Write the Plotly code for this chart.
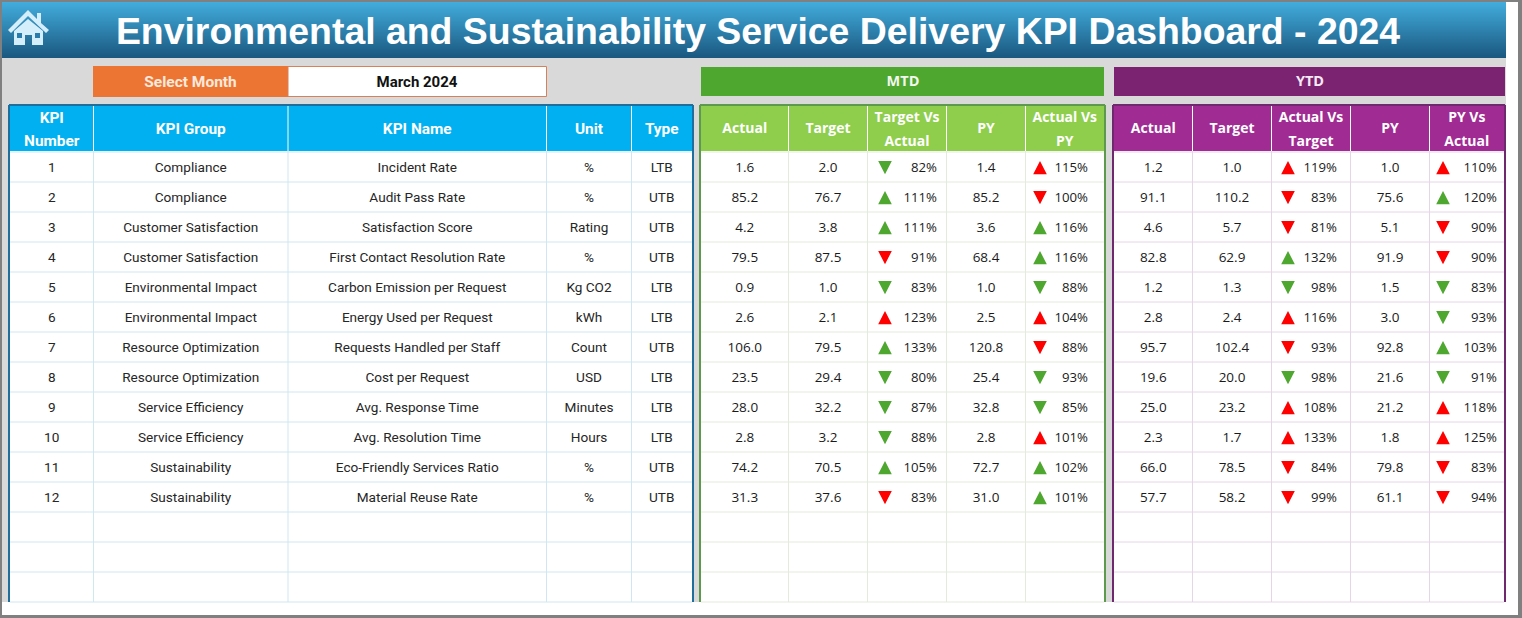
import plotly.graph_objects as go

# table contents
kpi_number = [str(i) for i in range(1, 13)]
kpi_group = ['Compliance', 'Compliance', 'Customer Satisfaction', 'Customer Satisfaction',
             'Environmental Impact', 'Environmental Impact', 'Resource Optimization', 'Resource Optimization',
             'Service Efficiency', 'Service Efficiency', 'Sustainability', 'Sustainability']
kpi_name = ['Incident Rate', 'Audit Pass Rate', 'Satisfaction Score', 'First Contact Resolution Rate',
            'Carbon Emission per Request', 'Energy Used per Request', 'Requests Handled per Staff', 'Cost per Request',
            'Avg. Response Time', 'Avg. Resolution Time', 'Eco-Friendly Services Ratio', 'Material Reuse Rate']
unit = ['%', '%', 'Rating', '%', 'Kg CO2', 'kWh', 'Count', 'USD', 'Minutes', 'Hours', '%', '%']
kpi_type = ['LTB', 'UTB', 'UTB', 'UTB', 'LTB', 'LTB', 'UTB', 'LTB', 'LTB', 'LTB', 'UTB', 'UTB']

mtd_actual = ['1.6', '85.2', '4.2', '79.5', '0.9', '2.6', '106.0', '23.5', '28.0', '2.8', '74.2', '31.3']
mtd_target = ['2.0', '76.7', '3.8', '87.5', '1.0', '2.1', '79.5', '29.4', '32.2', '3.2', '70.5', '37.6']
mtd_vs_target = ['82%', '111%', '111%', '91%', '83%', '123%', '133%', '80%', '87%', '88%', '105%', '83%']
mtd_vs_target_dir = ['d', 'u', 'u', 'd', 'd', 'u', 'u', 'd', 'd', 'd', 'u', 'd']
mtd_py = ['1.4', '85.2', '3.6', '68.4', '1.0', '2.5', '120.8', '25.4', '32.8', '2.8', '72.7', '31.0']
mtd_vs_py = ['115%', '100%', '116%', '116%', '88%', '104%', '88%', '93%', '85%', '101%', '102%', '101%']
mtd_vs_py_dir = ['u', 'd', 'u', 'u', 'd', 'u', 'd', 'd', 'd', 'u', 'u', 'u']

ytd_actual = ['1.2', '91.1', '4.6', '82.8', '1.2', '2.8', '95.7', '19.6', '25.0', '2.3', '66.0', '57.7']
ytd_target = ['1.0', '110.2', '5.7', '62.9', '1.3', '2.4', '102.4', '20.0', '23.2', '1.7', '78.5', '58.2']
ytd_vs_target = ['119%', '83%', '81%', '132%', '98%', '116%', '93%', '98%', '108%', '133%', '84%', '99%']
ytd_vs_target_dir = ['u', 'd', 'd', 'u', 'd', 'u', 'd', 'd', 'u', 'u', 'd', 'd']
ytd_py = ['1.0', '75.6', '5.1', '91.9', '1.5', '3.0', '92.8', '21.6', '21.2', '1.8', '79.8', '61.1']
ytd_vs_py = ['110%', '120%', '90%', '90%', '83%', '93%', '103%', '91%', '118%', '125%', '83%', '94%']
ytd_vs_py_dir = ['u', 'u', 'd', 'd', 'd', 'd', 'u', 'd', 'u', 'u', 'd', 'd']

left_headers = ['KPI<br>Number', 'KPI Group', 'KPI Name', 'Unit', 'Type']
mtd_headers = ['Actual', 'Target', 'Target Vs<br>Actual', 'PY', 'Actual Vs<br>PY']
ytd_headers = ['Actual', 'Target', 'Actual Vs<br>Target', 'PY', 'PY Vs<br>Actual']

# layout in page pixels
WIDTH, HEIGHT = 1522, 618
left_cols = [10, 93.5, 288, 546.5, 631.5, 692]
mtd_cols = [701, 788.5, 867.5, 946.5, 1025.5, 1104]
ytd_cols = [1114, 1192.5, 1271.5, 1350.5, 1429.5, 1504]
row_lines = [152 + 30 * i for i in range(16)]
row_mid = [167 + 30 * i for i in range(12)]

LEFT_FONT = 'Roboto'
RIGHT_FONT = 'Open Sans'
GREEN = '#4EA72E'
RED = '#FF0000'
TEXT_DROP = 1.8  # plotly sits text a little above the middle

shapes = []


def rect(x0, y0, x1, y1, fill, line=None, width=1):
    shapes.append(dict(type='rect', layer='below', x0=x0, y0=y0, x1=x1, y1=y1, fillcolor=fill,
                       line=dict(color=line, width=width) if line else dict(width=0)))


def seg(x0, y0, x1, y1, color, width=1):
    shapes.append(dict(type='line', layer='below', x0=x0, y0=y0, x1=x1, y1=y1, line=dict(color=color, width=width)))


# window frame and sheet background
rect(0, 0, WIDTH, HEIGHT, '#808080')
rect(2, 2, 1518, 615, '#FFFFFF')
rect(2, 58, 1506, 602, '#D9D9D9')

# title band, top to bottom
band_top = (66, 172, 220)
band_bottom = (26, 88, 128)
for y in range(2, 58):
    t = (y - 2) / 55
    c = [round(a + (b - a) * t) for a, b in zip(band_top, band_bottom)]
    rect(2, y, 1506, y + 1, 'rgb(%d,%d,%d)' % tuple(c))

# house icon
shapes.append(dict(type='path', layer='below', fillcolor='#D4EEFB', line=dict(width=0),
                   path='M 8 30 L 28 10 L 37 19 L 37 13 L 41 13 L 41 23 L 49 30 L 46 33 L 28 16 L 11 33 Z'))
shapes.append(dict(type='path', layer='below', fillcolor='#D4EEFB', line=dict(width=0),
                   path='M 14 31 L 28 19 L 43 31 L 43 45 L 32 45 L 32 35 L 25 35 L 25 45 L 14 45 Z'))
rect(17, 33, 22, 38, '#2A7CAC')
rect(35, 33, 40, 38, '#2A7CAC')

# selector
rect(93, 66, 288, 97, '#EC7533')
rect(288, 66.5, 546.5, 96.5, '#FFFFFF', '#D9805A', 1)

# banners
rect(701, 67, 1104, 96, GREEN)
rect(1114, 67, 1505, 96, '#7B2270')

# three tables
for cols, head, border, grid in [(left_cols, '#00B0F0', '#1F6E9C', '#CFE7F0'),
                                 (mtd_cols, '#8FCE4C', '#5E9A4E', '#E3EBDD'),
                                 (ytd_cols, '#A02B93', '#6F2A6F', '#E6D5E6')]:
    rect(cols[0], 105, cols[-1], 602, '#FFFFFF')
    rect(cols[0], 105, cols[-1], 151, head)
    for x in cols[1:-1]:
        seg(x, 105, x, 151, '#FFFFFF')
        seg(x, 151, x, 602, grid)
    for y in row_lines:
        seg(cols[0], y, cols[-1], y, grid)
    seg(cols[0] - 1, 105, cols[-1] + 1, 105, border, 2)
    seg(cols[0] - 1, 105, cols[0] - 1, 602, border, 2)
    seg(cols[-1] + 1, 105, cols[-1] + 1, 602, border, 2)

fig = go.Figure()


def text_trace(xs, ys, labels, size, color, family, bold=False, pos='middle center'):
    if bold:
        labels = ['<b>%s</b>' % s for s in labels]
    fig.add_trace(go.Scatter(x=xs, y=[y + TEXT_DROP for y in ys], text=labels, mode='text', textposition=pos,
                             cliponaxis=False, textfont=dict(size=size, color=color, family=family),
                             hoverinfo='skip'))


def column(cols, i, labels, size, color, family):
    c = (cols[i] + cols[i + 1]) / 2
    text_trace([c] * len(labels), row_mid[:len(labels)], labels, size, color, family)


def headers(cols, labels, size, family):
    for i, label in enumerate(labels):
        parts = label.split('<br>')
        c = (cols[i] + cols[i + 1]) / 2
        ys = [128] if len(parts) == 1 else [117, 140.5]
        text_trace([c] * len(parts), ys, parts, size, '#FFFFFF', family, bold=True)


def delta_column(x_arrow, x_text, pcts, dirs):
    text_trace([x_text] * 12, row_mid, pcts, 13.2, '#1A1A1A', RIGHT_FONT, pos='middle left')
    # the arrows are a bit narrower than plotly's marker triangles, so draw them as filled outlines
    for color in (GREEN, RED):
        xs, ys = [], []
        for d, t, y in zip(dirs, kpi_type, row_mid):
            good = (d == 'd') == (t == 'LTB')
            if (color == GREEN) != good:
                continue
            tip, base = (y - 6, y + 7.3) if d == 'u' else (y + 7.3, y - 6)
            xs += [x_arrow - 6.8, x_arrow + 6.8, x_arrow, x_arrow - 6.8, None]
            ys += [base, base, tip, base, None]
        fig.add_trace(go.Scatter(x=xs, y=ys, mode='lines', fill='toself', fillcolor=color, hoverinfo='skip',
                                 line=dict(width=0, color=color)))


# title, selector and banner text
text_trace([758], [33], ['Environmental and Sustainability Service Delivery KPI Dashboard - 2024'],
           37.4, '#FFFFFF', 'Liberation Sans', bold=True)
text_trace([190.5], [81], ['Select Month'], 15.5, '#FDE9DC', LEFT_FONT, bold=True)
text_trace([417], [81], ['March 2024'], 15, '#111111', LEFT_FONT, bold=True)
text_trace([903], [81], ['MTD'], 14.5, '#F2F7EE', RIGHT_FONT, bold=True)
text_trace([1310], [81], ['YTD'], 14.5, '#F5EAF4', RIGHT_FONT, bold=True)

headers(left_cols, left_headers, 15.4, LEFT_FONT)
headers(mtd_cols, mtd_headers, 14, RIGHT_FONT)
headers(ytd_cols, ytd_headers, 14, RIGHT_FONT)

for i, labels in enumerate([kpi_number, kpi_group, kpi_name, unit, kpi_type]):
    column(left_cols, i, labels, 13.6, '#262626', LEFT_FONT)

column(mtd_cols, 0, mtd_actual, 13.5, '#1A1A1A', RIGHT_FONT)
column(mtd_cols, 1, mtd_target, 13.5, '#1A1A1A', RIGHT_FONT)
column(mtd_cols, 3, mtd_py, 13.5, '#1A1A1A', RIGHT_FONT)
column(ytd_cols, 0, ytd_actual, 13.5, '#1A1A1A', RIGHT_FONT)
column(ytd_cols, 1, ytd_target, 13.5, '#1A1A1A', RIGHT_FONT)
column(ytd_cols, 3, ytd_py, 13.5, '#1A1A1A', RIGHT_FONT)

delta_column(885, 937, mtd_vs_target, mtd_vs_target_dir)
delta_column(1040, 1088, mtd_vs_py, mtd_vs_py_dir)
delta_column(1288, 1337, ytd_vs_target, ytd_vs_target_dir)
delta_column(1443, 1497, ytd_vs_py, ytd_vs_py_dir)

fig.update_layout(
    width=WIDTH, height=HEIGHT, margin=dict(l=0, r=0, t=0, b=0), showlegend=False,
    paper_bgcolor='#FFFFFF', plot_bgcolor='#FFFFFF', shapes=shapes,
    xaxis=dict(range=[0, WIDTH], visible=False, fixedrange=True),
    yaxis=dict(range=[HEIGHT, 0], visible=False, fixedrange=True),
)

fig.write_html('out.html', config=dict(displayModeBar=False),
               post_script="document.body.style.margin='0';document.documentElement.style.overflow='hidden';")
